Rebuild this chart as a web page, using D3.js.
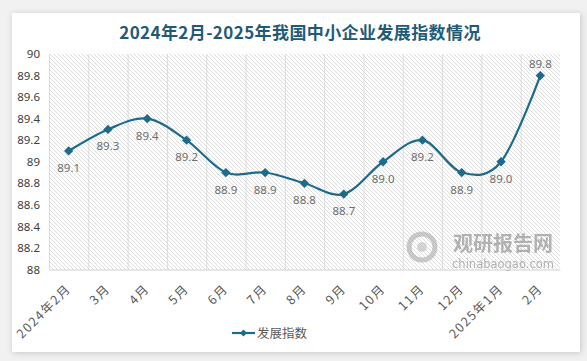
<!DOCTYPE html>
<html>
<head>
<meta charset="utf-8">
<script src="https://cdn.jsdelivr.net/npm/d3@7/dist/d3.min.js"></script>
<style>
  body { margin: 0; background: #f1f1f1; }
  svg { display: block; }
</style>
</head>
<body>
<div id="chart"></div>
<script>
var w = 587;
var h = 361;

var months = ["2024年2月", "3月", "4月", "5月", "6月", "7月", "8月", "9月", "10月", "11月", "12月", "2025年1月", "2月"];
var index = [89.1, 89.3, 89.4, 89.2, 88.9, 88.9, 88.8, 88.7, 89.0, 89.2, 88.9, 89.0, 89.8];
var yTicks = [88, 88.2, 88.4, 88.6, 88.8, 89, 89.2, 89.4, 89.6, 89.8, 90];
var seriesName = "发展指数";
var title = "2024年2月-2025年我国中小企业发展指数情况";

var lineColor = "#1c6a8c";
var pLeft = 49, pRight = 560, pTop = 54, pBottom = 269.5;

var svg = d3.select("#chart")
    .append("svg")
    .attr("width", w)
    .attr("height", h);

var defs = svg.append("defs");

// card shadow
var f = defs.append("filter").attr("id", "shadow")
    .attr("x", "-5%").attr("y", "-5%").attr("width", "110%").attr("height", "110%");
f.append("feDropShadow")
    .attr("dx", 1).attr("dy", 1).attr("stdDeviation", 3)
    .attr("flood-color", "#000").attr("flood-opacity", 0.18);

// hatch pattern for plot area
var pat = defs.append("pattern").attr("id", "hatch")
    .attr("patternUnits", "userSpaceOnUse")
    .attr("width", 4).attr("height", 4);
pat.append("rect").attr("width", 4).attr("height", 4).attr("fill", "#fff");
pat.append("path")
    .attr("d", "M-1,-1 L5,5 M-1,3 L1,5 M3,-1 L5,1")
    .attr("stroke", "#d6d6d6").attr("stroke-width", 0.8);

svg.append("rect")
    .attr("x", 12).attr("y", 13)
    .attr("width", 568).attr("height", 339)
    .attr("fill", "#fff")
    .attr("filter", "url(#shadow)");

svg.append("text")
    .attr("x", 300).attr("y", 39)
    .attr("text-anchor", "middle")
    .attr("font-family", "'Noto Sans CJK SC', sans-serif")
    .attr("font-weight", "bold")
    .attr("font-size", "17px")
    .attr("letter-spacing", "0.4px")
    .attr("fill", "#1f5b78")
    .text(title);

var xScale = d3.scaleBand().domain(months).range([pLeft, pRight]);
var yScale = d3.scaleLinear().domain([88, 90]).range([pBottom, pTop]);

svg.append("rect")
    .attr("x", pLeft).attr("y", pTop)
    .attr("width", pRight - pLeft).attr("height", pBottom - pTop)
    .attr("fill", "url(#hatch)");

// vertical grid lines at category boundaries
svg.append("g")
    .selectAll("line")
    .data(months)
    .enter()
    .append("line")
    .attr("x1", function (d) { return xScale(d) + 0.5; })
    .attr("x2", function (d) { return xScale(d) + 0.5; })
    .attr("y1", pTop)
    .attr("y2", pBottom)
    .attr("stroke", "#dcdcdc");

// watermark
var wm = svg.append("g").attr("opacity", 0.75);
wm.append("circle").attr("cx", 422).attr("cy", 247).attr("r", 13)
    .attr("fill", "none").attr("stroke", "#b8b8b8").attr("stroke-width", 5);
wm.append("circle").attr("cx", 422).attr("cy", 247).attr("r", 5)
    .attr("fill", "#c8c8c8");
wm.append("text").attr("x", 503).attr("y", 251)
    .attr("text-anchor", "middle")
    .attr("font-family", "'Noto Sans CJK SC', sans-serif")
    .attr("font-weight", "bold").attr("font-size", "20px")
    .attr("fill", "#9a9a9a").text("观研报告网");
wm.append("text").attr("x", 503).attr("y", 268)
    .attr("text-anchor", "middle")
    .attr("font-family", "'DejaVu Sans', sans-serif")
    .attr("font-size", "11.5px")
    .attr("fill", "#9a9a9a").text("chinabaogao.com");

// axes
var xAxis = d3.axisBottom(xScale).tickSize(0).tickPadding(0);
var gx = svg.append("g")
    .attr("transform", "translate(0," + pBottom + ")")
    .call(xAxis);
gx.select(".domain").attr("stroke", "#d0d0d0");
gx.selectAll("text")
    .attr("font-family", "'Noto Sans CJK SC', sans-serif")
    .attr("font-size", "12.5px")
    .attr("letter-spacing", "1.5px")
    .attr("fill", "#595959")
    .attr("text-anchor", "end")
    .attr("dy", null)
    .attr("y", 0)
    .attr("transform", "translate(3,20) rotate(-45)");

var yAxis = d3.axisLeft(yScale).tickValues(yTicks).tickSize(0).tickPadding(9)
    .tickFormat(function (d) { return String(+d.toFixed(1)); });
var gy = svg.append("g")
    .attr("transform", "translate(" + pLeft + ",0)")
    .call(yAxis);
gy.select(".domain").remove();
gy.selectAll("text")
    .attr("font-family", "'Noto Sans', sans-serif")
    .attr("font-size", "11.5px")
    .attr("fill", "#404040");

// line
var cx = function (d, i) { return xScale(months[i]) + xScale.bandwidth() / 2; };
var line = d3.line()
    .x(cx)
    .y(function (d) { return yScale(d); })
    .curve(d3.curveCardinal.tension(0));

svg.append("path")
    .datum(index)
    .attr("d", line)
    .attr("fill", "none")
    .attr("stroke", lineColor)
    .attr("stroke-width", 2.2);

var diamond = d3.symbol().type(d3.symbolDiamond2).size(55);
svg.selectAll(".pt")
    .data(index)
    .enter()
    .append("path")
    .attr("class", "pt")
    .attr("d", diamond)
    .attr("transform", function (d, i) {
        return "translate(" + cx(d, i) + "," + yScale(d) + ")";
    })
    .attr("fill", lineColor);

svg.selectAll(".lbl")
    .data(index)
    .enter()
    .append("text")
    .attr("class", "lbl")
    .attr("x", cx)
    .attr("y", function (d) {
        return d >= 89.8 ? yScale(d) - 8 : yScale(d) + 21;
    })
    .attr("text-anchor", "middle")
    .attr("font-family", "'Noto Sans', sans-serif")
    .attr("font-size", "11.5px")
    .attr("fill", "#6e6e6e")
    .text(function (d) { return d.toFixed(1); });

// legend
var lg = svg.append("g").attr("transform", "translate(232,333)");
lg.append("line").attr("x1", 0).attr("x2", 23).attr("y1", 0).attr("y2", 0)
    .attr("stroke", lineColor).attr("stroke-width", 2.2);
lg.append("path").attr("d", d3.symbol().type(d3.symbolDiamond2).size(30))
    .attr("transform", "translate(11.5,0)").attr("fill", lineColor);
lg.append("text").attr("x", 25).attr("y", 4.5)
    .attr("font-family", "'Noto Sans CJK SC', sans-serif")
    .attr("font-size", "12.5px")
    .attr("fill", "#595959")
    .text(seriesName);
</script>
</body>
</html>
